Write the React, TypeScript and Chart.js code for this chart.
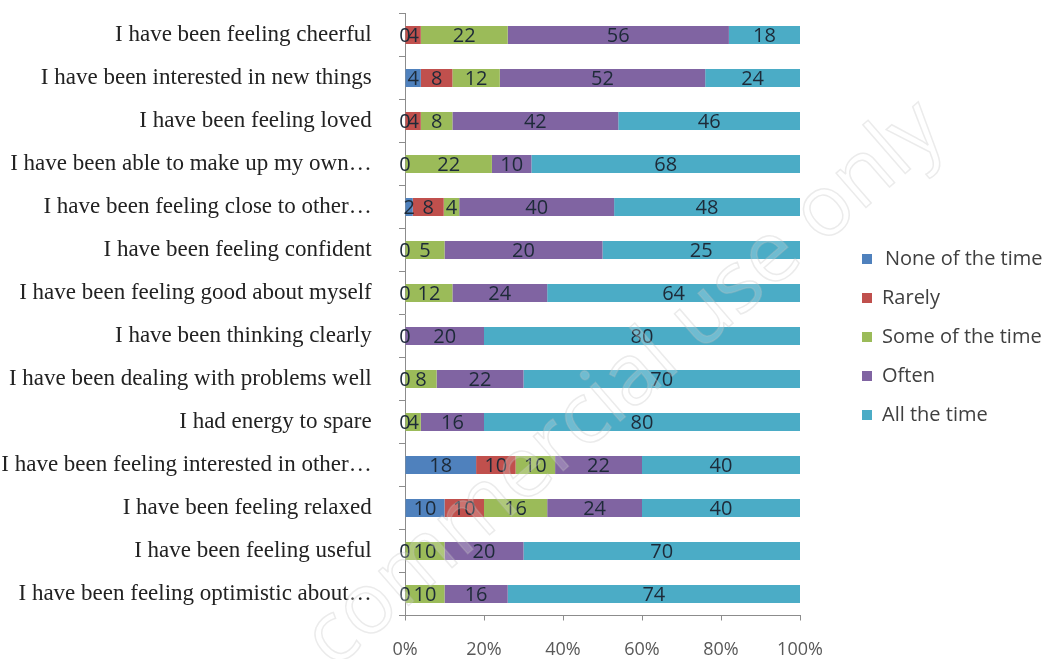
import { useEffect, useRef } from "react";
import { Chart, registerables } from "chart.js";

Chart.register(...registerables);

// Survey statements (one bar each, top to bottom)
const statements = [
  "I have been feeling cheerful",
  "I have been interested in new things",
  "I have been feeling loved",
  "I have been able to make up my own…",
  "I have been feeling close to other…",
  "I have been feeling confident",
  "I have been feeling good about myself",
  "I have been thinking clearly",
  "I have been dealing with problems well",
  "I had energy to spare",
  "I have been feeling interested in other…",
  "I have been feeling relaxed",
  "I have been feeling useful",
  "I have been feeling optimistic about…",
];

// Response counts per answer
const noneOfTheTime = [0, 4, 0, 0, 2, 0, 0, 0, 0, 0, 18, 10, 0, 0];
const rarely = [4, 8, 4, 0, 8, 0, 0, 0, 0, 0, 10, 10, 0, 0];
const someOfTheTime = [22, 12, 8, 22, 4, 5, 12, 0, 8, 4, 10, 16, 10, 10];
const often = [56, 52, 42, 10, 40, 20, 24, 20, 22, 16, 22, 24, 20, 16];
const allTheTime = [18, 24, 46, 68, 48, 25, 64, 80, 70, 80, 40, 40, 70, 74];

const seriesNames = ["None of the time", "Rarely", "Some of the time", "Often", "All the time"];
const seriesColors = ["#4F81BD", "#C0504D", "#9BBB59", "#8064A2", "#4BACC6"];

const SANS = "'Open Sans', 'Noto Sans', sans-serif";
const SERIF = "'Liberation Serif', 'Times New Roman', serif";

const valueLabels = {
  id: "valueLabels",
  afterDatasetsDraw(chart: any) {
    const ctx = chart.ctx;
    ctx.save();
    ctx.font = `20px ${SANS}`;
    ctx.fillStyle = "#1d2a38";
    ctx.textAlign = "center";
    ctx.textBaseline = "middle";
    chart.data.datasets.forEach((ds: any, di: number) => {
      const meta = chart.getDatasetMeta(di);
      meta.data.forEach((bar: any, i: number) => {
        const raw = ds.raw[i];
        if (raw === 0 && di !== 0) return;
        const cx = (bar.x + bar.base) / 2;
        ctx.fillText(String(raw), cx, bar.y + 1);
      });
    });
    ctx.restore();
  },
};

const sideLegend = {
  id: "sideLegend",
  afterDraw(chart: any) {
    const ctx = chart.ctx;
    ctx.save();
    ctx.font = `20px ${SANS}`;
    ctx.textAlign = "left";
    ctx.textBaseline = "middle";
    chart.data.datasets.forEach((ds: any, i: number) => {
      const y = 259 + i * 39;
      ctx.fillStyle = ds.backgroundColor;
      ctx.fillRect(862, y - 5, 10, 10);
      ctx.fillStyle = "#404040";
      ctx.fillText(ds.label, i === 0 ? 885 : 882, y);
    });
    ctx.restore();
  },
};

const watermark = {
  id: "watermark",
  afterDraw(chart: any) {
    const ctx = chart.ctx;
    ctx.save();
    ctx.translate(625, 385);
    ctx.rotate((-41 * Math.PI) / 180);
    ctx.font = `85px ${SANS}`;
    ctx.textAlign = "center";
    ctx.textBaseline = "middle";
    ctx.fillStyle = "rgba(255,255,255,0.2)";
    ctx.fillText("commercial use only", 0, 0);
    ctx.lineWidth = 1.5;
    ctx.strokeStyle = "rgba(190,190,190,0.3)";
    ctx.strokeText("commercial use only", 0, 0);
    ctx.restore();
  },
};

export default function App() {
  const canvasRef = useRef<HTMLCanvasElement | null>(null);

  useEffect(() => {
    if (!canvasRef.current) return;
    const counts = [noneOfTheTime, rarely, someOfTheTime, often, allTheTime];
    const totals = statements.map((_, i) => counts.reduce((s, arr) => s + arr[i], 0));

    const chart = new Chart(canvasRef.current, {
      type: "bar",
      data: {
        labels: statements,
        datasets: counts.map((arr, k) => ({
          label: seriesNames[k],
          raw: arr,
          data: arr.map((v, i) => (v / totals[i]) * 100),
          backgroundColor: seriesColors[k],
          borderWidth: 0,
          categoryPercentage: 1,
          barPercentage: 0.42,
        })) as any,
      },
      options: {
        indexAxis: "y",
        animation: false,
        responsive: true,
        maintainAspectRatio: false,
        layout: { padding: { top: 0, right: 247, bottom: 0, left: 0 } },
        plugins: {
          legend: { display: false },
          tooltip: { enabled: false },
        },
        scales: {
          x: {
            stacked: true,
            min: 0,
            max: 100,
            ticks: {
              stepSize: 20,
              callback: (v: any) => `${v}%`,
              font: { family: SANS, size: 18 },
              color: "#595959",
              padding: 19,
            },
            grid: { drawOnChartArea: false, drawTicks: true, tickLength: 5, color: "#8c8c8c" },
            border: { display: true, color: "#8c8c8c" },
            afterFit: (scale: any) => {
              scale.height = 43.5;
            },
          },
          y: {
            stacked: true,
            ticks: {
              font: { family: SERIF, size: 23, lineHeight: 0.02 },
              color: "#222222",
              padding: 13.3,
              autoSkip: false,
            },
            grid: {
              drawOnChartArea: false,
              drawTicks: true,
              tickLength: 20,
              tickBorderDash: [0, 14, 6, 100],
              color: "#8c8c8c",
              offset: true,
            },
            border: { display: true, color: "#8c8c8c" },
            afterFit: (scale: any) => {
              scale.width = 405;
            },
          },
        },
      },
      plugins: [valueLabels, sideLegend, watermark],
    });

    return () => chart.destroy();
  }, []);

  return (
    <div style={{ position: "absolute", left: 0, top: 0, width: 1047, height: 659, background: "#ffffff" }}>
      <canvas ref={canvasRef} />
    </div>
  );
}
